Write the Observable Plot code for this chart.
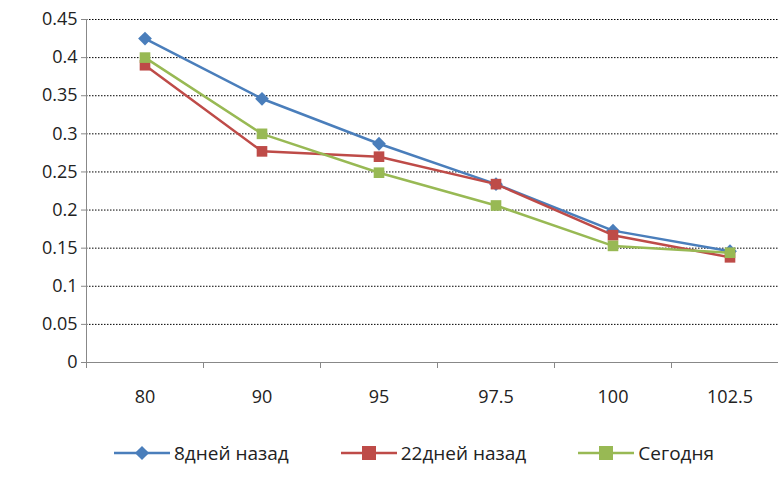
<!DOCTYPE html>
<html><head><meta charset="utf-8">
<script src="https://cdn.jsdelivr.net/npm/d3@7"></script>
<script src="https://cdn.jsdelivr.net/npm/@observablehq/plot@0.6"></script>
<style>body{margin:0;background:#fff;font-family:"Open Sans",sans-serif}
#leg{display:flex;justify-content:center;gap:52px;font-size:19px;color:#222;margin-top:20px;padding-left:50px}
#leg span{display:flex;align-items:center;gap:4px}</style></head>
<body><div id="c"></div><div id="leg"></div>
<script>
const categories = ["80","90","95","97.5","100","102.5"];
const blue = [0.425,0.346,0.287,0.234,0.173,0.146];
const red = [0.390,0.277,0.270,0.234,0.167,0.138];
const green = [0.400,0.300,0.249,0.206,0.153,0.144];
const yTicks = [0,0.05,0.1,0.15,0.2,0.25,0.3,0.35,0.4,0.45];
const series = [
 {name:"8дней назад", vals:blue, color:"#4a7ebb", diamond:true},
 {name:"22дней назад", vals:red, color:"#be4b48", diamond:false},
 {name:"Сегодня", vals:green, color:"#98b954", diamond:false}
];
const data = series.flatMap(s=>s.vals.map((v,i)=>({s:s.name,i,v})));
const bounds = d3.range(categories.length+1).map(i=>i-0.5);
const marks = [
 Plot.ruleY(yTicks.slice(1),{stroke:"#000",strokeDasharray:"1.5,1.5",strokeWidth:1}),
 Plot.ruleY([0],{stroke:"#888"}),
 Plot.ruleX([-0.5],{stroke:"#888"}),
 Plot.axisY({ticks:yTicks,tickFormat:d=>String(+d.toFixed(2)),tickSize:5,fontSize:18,tickPadding:4,stroke:"#888",fill:"#222",label:null}),
 Plot.axisX({ticks:bounds,tickFormat:()=>"",tickSize:6,stroke:"#888",label:null}),
 Plot.text(categories,{x:(d,i)=>i,y:()=>0,text:d=>d,dy:35,fontSize:18,fill:"#222"})
];
for(const s of series){
 const d = data.filter(e=>e.s===s.name);
 marks.push(Plot.line(d,{x:"i",y:"v",stroke:s.color,strokeWidth:2.5}));
 marks.push(Plot.dot(d,{x:"i",y:"v",fill:s.color,symbol:"square",r:s.diamond?5.5:6,rotate:s.diamond?45:0}));
}
const chart = Plot.plot({
 width:778,height:420,marginLeft:86,marginRight:-10,marginTop:19,marginBottom:58,
 style:{fontFamily:"Open Sans, sans-serif",fontSize:"18px",overflow:"hidden"},
 x:{type:"linear",domain:[-0.5,categories.length-0.5]},
 y:{type:"linear",domain:[0,0.45]},
 marks
});
document.getElementById("c").appendChild(chart);
const leg=document.getElementById("leg");
for(const s of series){
 const shape = s.diamond
  ? `<rect x="23" y="3" width="10" height="10" fill="${s.color}" transform="rotate(45 28 8)"/>`
  : `<rect x="21" y="1" width="14" height="14" fill="${s.color}"/>`;
 leg.innerHTML += `<span><svg width="56" height="16"><line x1="0" x2="56" y1="8" y2="8" stroke="${s.color}" stroke-width="2.5"/>${shape}</svg>${s.name}</span>`;
}
</script></body></html>
